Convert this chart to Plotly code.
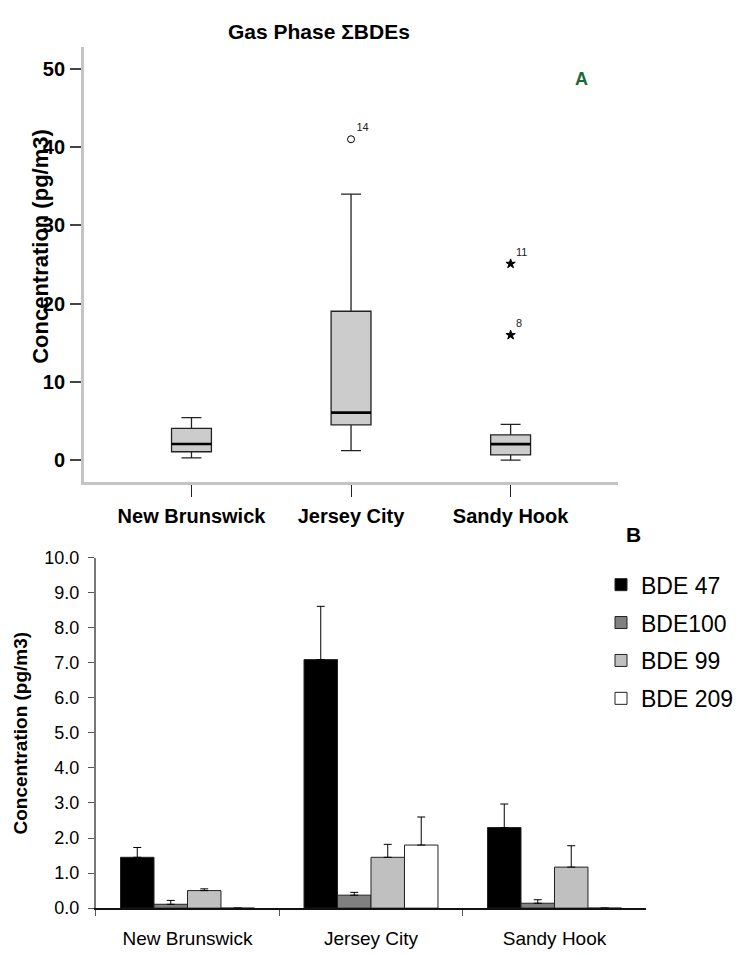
import plotly.graph_objects as go

W, H = 739, 957

# ---------- Panel A data (box plot) ----------
sites = ["New Brunswick", "Jersey City", "Sandy Hook"]
box_low = [0.33, 1.25, 0.04]
box_q1 = [1.10, 4.54, 0.70]
box_median = [2.10, 6.10, 2.08]
box_q3 = [4.10, 19.04, 3.25]
box_high = [5.45, 34.0, 4.60]

outlier_site = [1, 2, 2]
outlier_value = [41.0, 25.1, 16.0]
outlier_label = ["14", "11", "8"]
outlier_symbol = ["circle-open", "star", "star"]

# ---------- Panel B data (bar chart) ----------
congeners = ["BDE 47", "BDE100", "BDE 99", "BDE 209"]
bar_colors = ["#000000", "#808080", "#c0c0c0", "#ffffff"]
means = {
    "BDE 47": [1.45, 7.09, 2.30],
    "BDE100": [0.11, 0.37, 0.14],
    "BDE 99": [0.50, 1.45, 1.17],
    "BDE 209": [0.00, 1.80, 0.00],
}
errors = {
    "BDE 47": [0.28, 1.52, 0.67],
    "BDE100": [0.11, 0.08, 0.10],
    "BDE 99": [0.05, 0.37, 0.61],
    "BDE 209": [0.00, 0.80, 0.00],
}
b_ticks = [0, 1, 2, 3, 4, 5, 6, 7, 8, 9, 10]

FONT = "Liberation Sans, Arial, sans-serif"

def px_x(p):
    return p / W

def px_y(p):
    return 1 - p / H

fig = go.Figure()

box_w = 0.25
for i, s in enumerate(sites):
    fig.add_trace(go.Box(
        x=[i], q1=[box_q1[i]], median=[box_median[i]], q3=[box_q3[i]],
        lowerfence=[box_low[i]], upperfence=[box_high[i]],
        width=box_w, whiskerwidth=0.5, boxpoints=False,
        fillcolor="#cccccc", line=dict(color="#222222", width=1.3),
        showlegend=False, xaxis="x", yaxis="y", hoverinfo="skip",
    ))
    # thick median line
    fig.add_trace(go.Scatter(
        x=[i - box_w / 2, i + box_w / 2], y=[box_median[i], box_median[i]],
        mode="lines", line=dict(color="black", width=2.6),
        showlegend=False, xaxis="x", yaxis="y", hoverinfo="skip",
    ))

for xi, v, lab, sym in zip(outlier_site, outlier_value, outlier_label, outlier_symbol):
    fig.add_trace(go.Scatter(
        x=[xi], y=[v], mode="markers+text", text=[lab],
        textposition="top right",
        textfont=dict(family=FONT, size=11, color="#222222"),
        marker=dict(symbol=sym, size=7,
                    color="black", line=dict(color="black", width=1)),
        showlegend=False, xaxis="x", yaxis="y", hoverinfo="skip",
    ))

for c, col in zip(congeners, bar_colors):
    fig.add_trace(go.Bar(
        x=sites, y=means[c], name=c, legendgroup=c,
        marker=dict(color=col, line=dict(color="#222222", width=1)),
        error_y=dict(type="data", symmetric=False, array=errors[c],
                     arrayminus=[0] * len(sites), color="black",
                     thickness=1, width=4),
        xaxis="x2", yaxis="y2",
    ))

def ann(text, x, y, size, color="black", angle=0, bold=True):
    return dict(text=text, x=px_x(x), y=px_y(y), xref="paper", yref="paper",
                xanchor="center", yanchor="middle", textangle=angle,
                showarrow=False,
                font=dict(family=FONT, size=size, weight="bold" if bold else "normal",
                          color=color))

fig.update_layout(
    width=W, height=H,
    margin=dict(l=0, r=0, t=0, b=0),
    paper_bgcolor="white", plot_bgcolor="white",
    font=dict(family=FONT, color="black"),
    barmode="group", bargap=0.27, bargroupgap=0,
    showlegend=True,
    legend=dict(x=px_x(603), y=px_y(565), xanchor="left", yanchor="top",
                font=dict(family=FONT, size=23, color="black"),
                tracegroupgap=5, bgcolor="rgba(0,0,0,0)"),
    xaxis=dict(domain=[px_x(84), px_x(620)], range=[-0.675, 2.675],
               tickvals=[0, 1, 2], ticktext=sites,
               ticks="outside", ticklen=12, tickwidth=1.3, tickcolor="#222222",
               ticklabelstandoff=2,
               tickfont=dict(family=FONT, size=20, weight="bold", color="black"),
               showline=True, linecolor="#c4c4c4", linewidth=2.5,
               showgrid=False, zeroline=False, anchor="y"),
    yaxis=dict(domain=[px_y(482), px_y(38)], range=[-2.75, 52.75],
               tickvals=[0, 10, 20, 30, 40, 50],
               ticks="outside", ticklen=11, tickwidth=1.8, tickcolor="#444444",
               ticklabelstandoff=1,
               tickfont=dict(family=FONT, size=20, weight="bold", color="black"),
               showline=True, linecolor="#c4c4c4", linewidth=2.5,
               showgrid=False, zeroline=False, anchor="x"),
    xaxis2=dict(domain=[px_x(96), px_x(648)],
                ticks="outside", ticklen=6, tickwidth=1.3, tickcolor="#555555",
                tickson="boundaries", ticklabelstandoff=12,
                tickfont=dict(family=FONT, size=19, color="black"),
                showline=True, linecolor="#111111", linewidth=1.5,
                showgrid=False, zeroline=False, anchor="y2"),
    yaxis2=dict(domain=[px_y(917.3), px_y(559.3)], range=[0, 10],
                tickvals=b_ticks, ticktext=[f"{t:.1f}" for t in b_ticks],
                ticks="outside", ticklen=6, tickwidth=1.3, tickcolor="#555555",
                ticklabelstandoff=5,
                tickfont=dict(family=FONT, size=18, color="black"),
                showline=True, linecolor="#777777", linewidth=1.5,
                showgrid=False, zeroline=False, anchor="x2"),
    annotations=[
        ann("Gas Phase ΣBDEs", 320, 22, 21),
        ann("A", 583, 70, 18, color="#1b6b3a"),
        ann("B", 635, 536, 21),
        ann("Concentration (pg/m3)", 41, 241, 22, angle=-90),
        ann("Concentration (pg/m3)", 21, 738, 19, angle=-90),
    ],
)

fig.write_html(
    "out.html",
    post_script=(
        "document.documentElement.style.margin='0';"
        "document.documentElement.style.overflow='hidden';"
        "document.body.style.margin='0';document.body.style.padding='0';"
        "document.body.style.overflow='hidden';"
        "var d=document.getElementsByClassName('plotly-graph-div')[0];"
        "if(d){d.style.position='fixed';d.style.top='0px';d.style.left='0px';}"
    ),
)
